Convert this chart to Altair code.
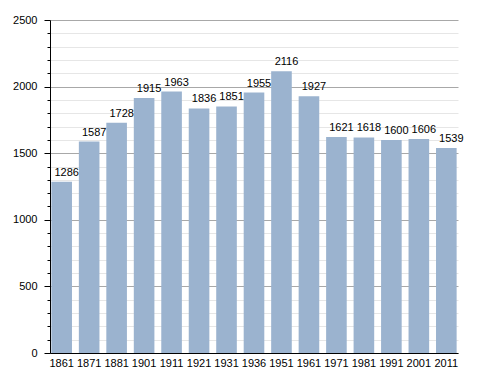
import altair as alt
import pandas as pd

years = ["1861", "1871", "1881", "1901", "1911", "1921", "1931", "1936",
         "1951", "1961", "1971", "1981", "1991", "2001", "2011"]
population = [1286, 1587, 1728, 1915, 1963, 1836, 1851, 1955,
              2116, 1927, 1621, 1618, 1600, 1606, 1539]
y_ticks = list(range(0, 2501, 100))

df = pd.DataFrame({"year": years, "pop": population})

font = "Liberation Sans"

x = alt.X("year:N", sort=years,
          scale=alt.Scale(paddingInner=0.25, paddingOuter=0.05),
          axis=alt.Axis(title=None, labelAngle=0, ticks=False, domainColor="#000000",
                        labelFont=font, labelFontSize=11, labelColor="#000000",
                        labelPadding=4, grid=False))

y = alt.Y("pop:Q", scale=alt.Scale(domain=[0, 2500], nice=False),
          axis=alt.Axis(title=None, values=y_ticks, format="d",
                        labelExpr="datum.value % 500 === 0 ? datum.label : ''",
                        labelFont=font, labelFontSize=11, labelColor="#000000",
                        labelPadding=7, domainColor="#000000", tickColor="#000000",
                        tickSize={"condition": {"test": "datum.value % 500 === 0", "value": 6}, "value": 3},
                        gridColor={"condition": {"test": "datum.value % 500 === 0", "value": "#a8a8a8"}, "value": "#e6e6e6"},
                        grid=True))

base = alt.Chart(df).encode(x=x, y=y)
bars = base.mark_bar(color="#9bb3cf")
labels = base.mark_text(baseline="bottom", dy=-4, dx=5, font=font, fontSize=11,
                        color="#000000").encode(text="pop:Q")

chart = alt.layer(bars, labels).properties(
    width=408, height=333,
    autosize=alt.AutoSizeParams(type="none"),
    padding={"left": 42, "top": 12, "right": 10, "bottom": 25},
).configure_view(stroke=None)

chart.save("out.html", embed_options={"renderer": "svg", "actions": False})
